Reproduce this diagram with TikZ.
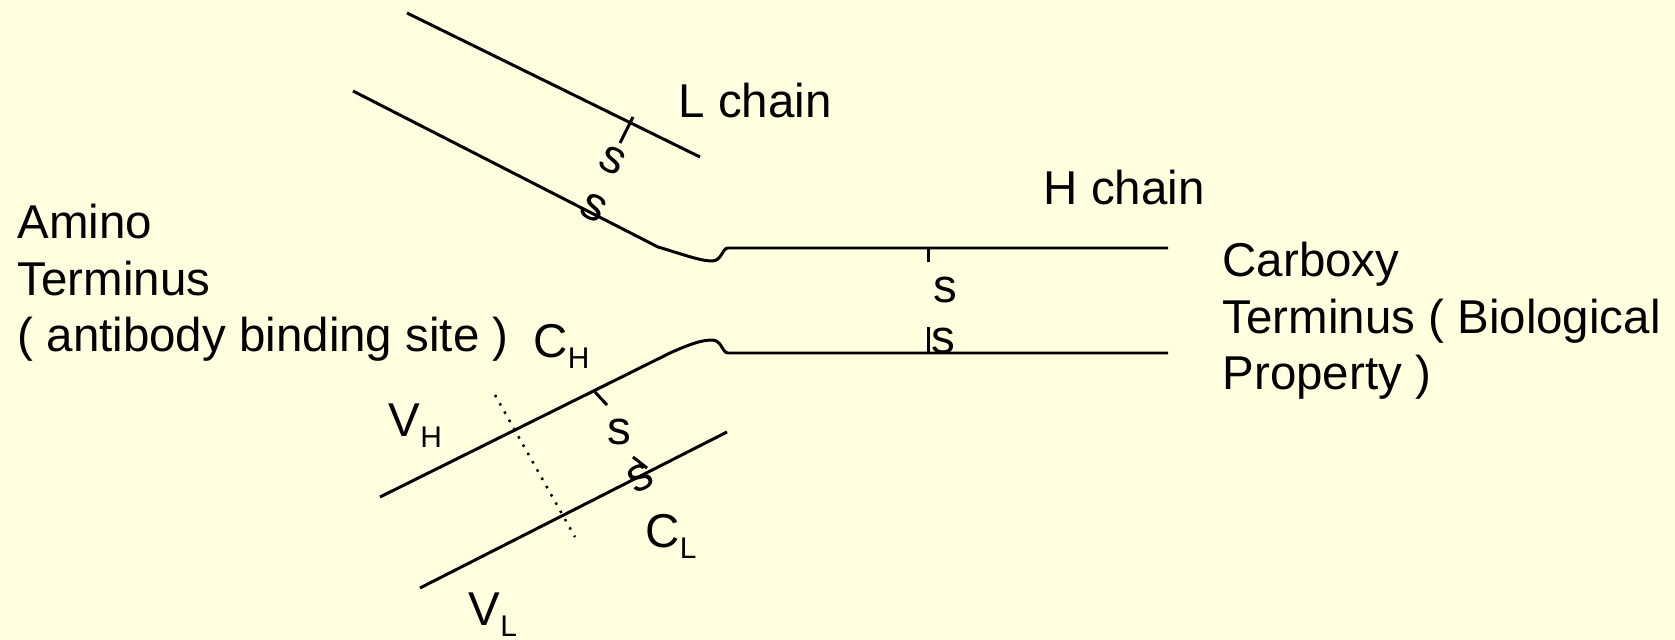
\documentclass[tikz,border=0pt]{standalone}
\usepackage{fontspec}
\setmainfont{Liberation Sans}
\usetikzlibrary{positioning}
\definecolor{abBack}{RGB}{255,255,224}
\newcommand{\lowsub}[1]{\raisebox{-3pt}{\fontsize{8.5}{10}\selectfont #1}}

\begin{document}
\begin{tikzpicture}[
    x=0.01cm, y=-0.01cm,
    strand/.style={draw=black, line width=0.85pt, line join=round},
    bond/.style={draw=black, line width=0.85pt},
    divider/.style={draw=black, line width=0.7pt, dotted},
    lbl/.style={inner sep=0pt, anchor=base west, align=left, font=\fontsize{13.5}{16.2}\selectfont},
    sulf/.style={inner sep=0pt, font=\fontsize{13.5}{16.2}\selectfont}
  ]
    \fill[abBack] (0,0) rectangle (1675,640);
    \useasboundingbox (0,0) rectangle (1675,640);
    % chains
    \draw[strand] (407,13) -- (700,157);
    \draw[strand] (353,91) -- (658,247) .. controls (682,254) and (700,261) .. (712,261)
      .. controls (722,261) and (722,248) .. (728,248) -- (1168,248);
    \draw[strand] (380,497) -- (670,353) .. controls (690,344) and (702,340) .. (712,340)
      .. controls (722,340) and (722,353) .. (728,353) -- (1168,353);
    \draw[strand] (420,588) -- (727,432);
    \draw[divider] (495,395) -- (575,537);
    % disulfide bonds
    \draw[bond] (633,117) -- (620,143);
    \draw[bond] (595,392) -- (607,405);
    \draw[bond] (633,457) -- (647,468);
    \draw[bond] (928,248) -- (928,262);
    \draw[bond] (928,327) -- (928,353);
    \node[sulf, rotate=-26] (sL1) at (613,160) {s};
    \node[sulf, rotate=-27] (sL2) at (594,208) {s};
    \node[sulf] (sV1) at (619,432) {s};
    \node[sulf, rotate=27] (sV2) at (640,478) {s};
    \node[sulf] (sH1) at (945,290) {s};
    \node[sulf] (sH2) at (943,341) {s};
    % labels (base = last line)
    \node[lbl] (lch) at (678,118) {L chain};
    \node[lbl] (hch) at (1043,205) {H chain};
    \node[lbl] (amino) at (17,352) {Amino\\Terminus\\( antibody binding site )};
    \node[lbl] (carboxy) at (1222,390) {Carboxy\\Terminus ( Biological\\Property )};
    \node[lbl] (ch) at (533,358) {C\lowsub{H}};
    \node[lbl] (vh) at (388,437) {V\lowsub{H}};
    \node[lbl] (cl) at (645,548) {C\lowsub{L}};
    \node[lbl] (vl) at (468,626) {V\lowsub{L}};
\end{tikzpicture}
\end{document}
